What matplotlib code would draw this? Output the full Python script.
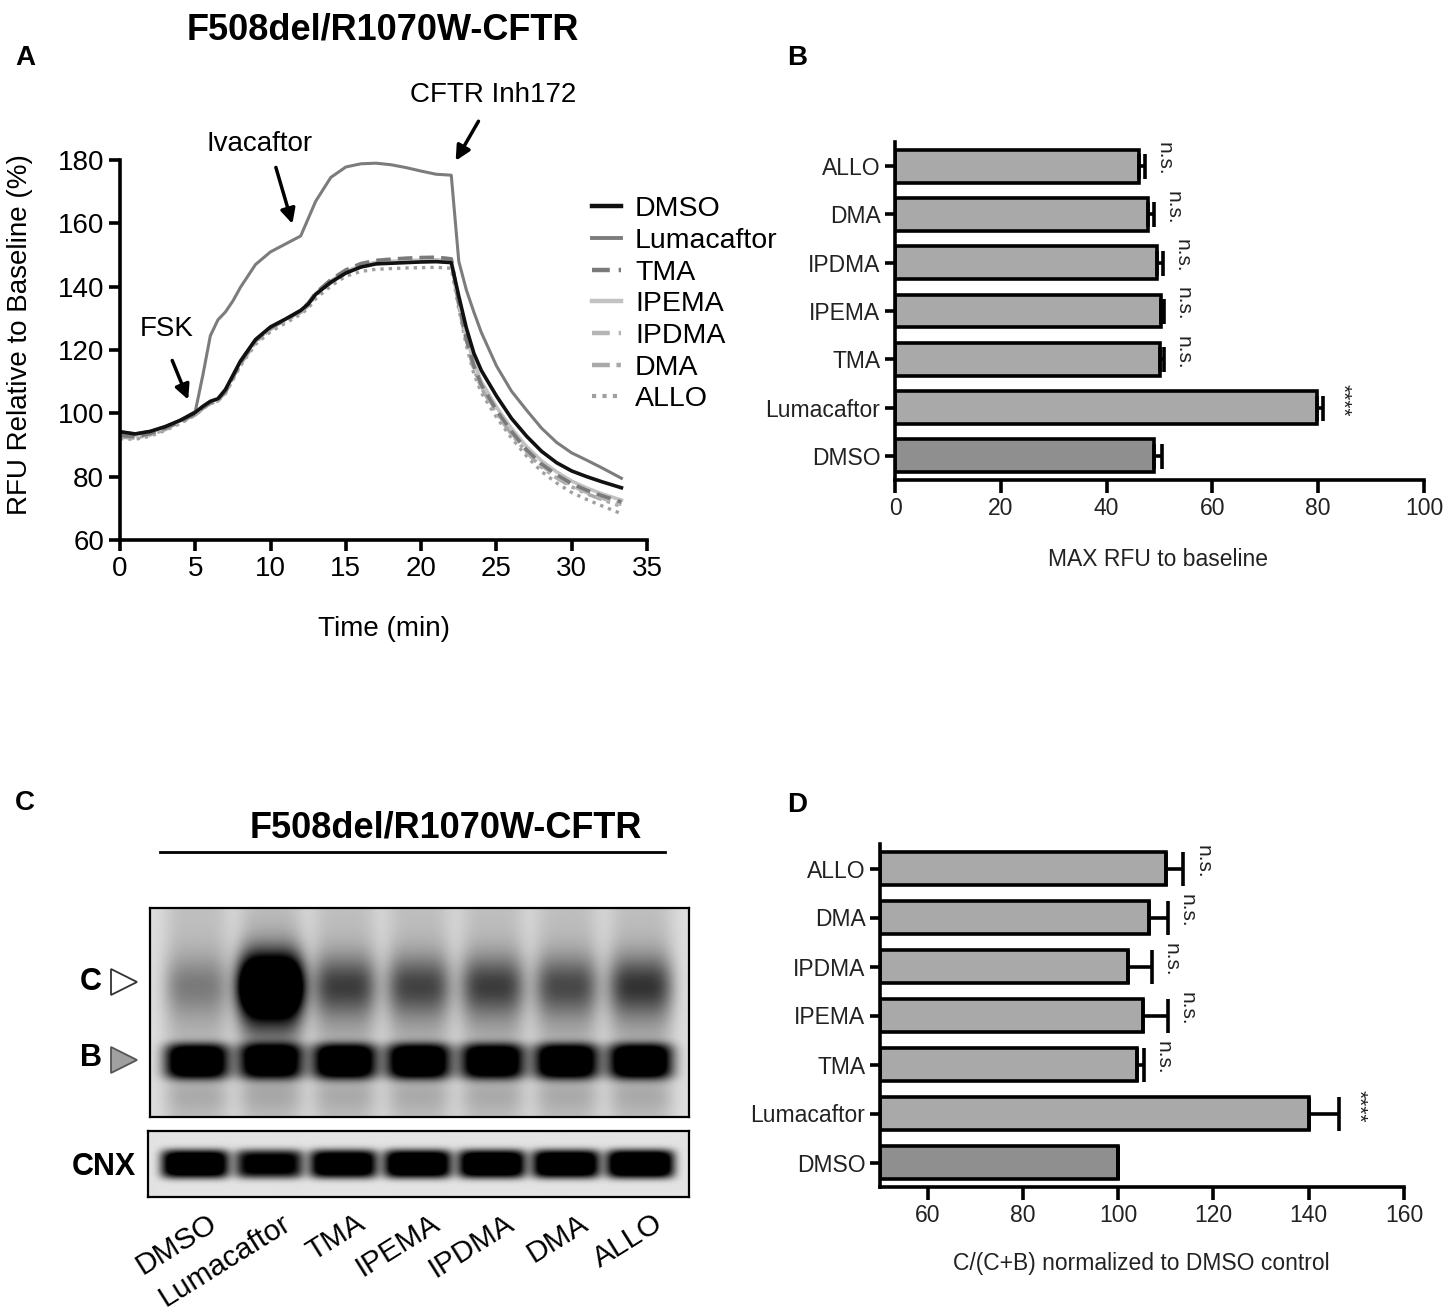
import numpy as np
import matplotlib.pyplot as plt
import matplotlib.transforms as mtransforms
from matplotlib.lines import Line2D

plt.rcParams['font.family'] = ['Liberation Sans', 'DejaVu Sans']

W, H = 1455, 1309

# ---- panel A: fluorescence traces (RFU relative to baseline, %)
time_min = [0, 1, 2, 3, 4, 5, 5.5, 6, 6.5, 7, 7.5, 8, 9, 10, 11, 12, 12.5, 13, 14, 15,
            16, 17, 18, 19, 20, 21, 22, 22.5, 23, 23.5, 24, 25, 26, 27, 28, 29, 30, 31, 32, 33.3]
trace_dmso = [94.2, 93.5, 94.3, 95.8, 97.8, 100.3, 102.2, 103.8, 104.6, 107.5, 112.0, 116.5,
              123.3, 127.3, 129.8, 132.5, 134.5, 137.6, 141.4, 144.3, 146.2, 147.2, 147.4, 147.6,
              147.8, 147.9, 147.6, 137.0, 127.0, 119.0, 113.5, 105.5, 98.4, 92.8, 88.0, 84.4,
              81.8, 80.0, 78.4, 76.5]
trace_luma = [94.2, 93.5, 94.3, 95.8, 97.8, 100.6, 112.0, 124.5, 129.5, 132.0, 135.5, 139.8,
              147.0, 151.0, 153.5, 156.0, 161.5, 167.0, 174.5, 177.8, 178.8, 179.0, 178.5, 177.6,
              176.5, 175.5, 175.2, 148.0, 139.0, 132.0, 125.5, 115.0, 107.0, 101.0, 95.3, 90.8,
              87.5, 85.2, 82.8, 79.5]
trace_tma = [93.0, 92.6, 93.6, 95.3, 97.4, 99.9, 101.8, 103.4, 104.2, 107.0, 111.5, 116.0,
             123.0, 127.0, 129.6, 132.4, 134.8, 138.0, 142.2, 145.3, 147.3, 148.3, 148.7, 149.0,
             149.2, 149.3, 148.8, 135.0, 123.5, 115.0, 109.0, 101.0, 94.3, 88.5, 84.0, 80.6,
             77.8, 75.7, 74.0, 72.0]
trace_ipema = [93.6, 93.0, 94.0, 95.6, 97.6, 100.1, 102.0, 103.6, 104.4, 107.2, 111.8, 116.3,
               123.2, 127.2, 129.7, 132.4, 134.6, 137.8, 141.8, 144.8, 146.7, 147.7, 148.0, 148.2,
               148.4, 148.5, 148.2, 135.5, 124.5, 116.0, 110.0, 102.0, 95.2, 89.5, 85.0, 81.5,
               78.6, 76.4, 74.6, 72.6]
trace_ipdma = [92.8, 92.4, 93.4, 95.1, 97.2, 99.7, 101.6, 103.2, 104.0, 106.8, 111.2, 115.8,
               122.8, 126.9, 129.5, 132.2, 134.6, 137.9, 142.0, 145.0, 147.0, 148.0, 148.5, 148.8,
               149.0, 149.1, 148.7, 134.5, 123.0, 114.5, 108.5, 100.5, 93.8, 88.0, 83.5, 80.0,
               77.2, 75.0, 73.2, 71.2]
trace_dma = [92.5, 92.2, 93.2, 94.9, 97.0, 99.5, 101.5, 103.1, 103.9, 106.6, 111.0, 115.5,
             122.5, 126.6, 129.2, 131.9, 134.0, 137.2, 141.2, 144.3, 146.3, 147.3, 147.6, 147.9,
             148.0, 148.1, 147.8, 134.0, 122.5, 114.0, 108.0, 100.0, 93.4, 87.7, 83.0, 79.6,
             76.8, 74.6, 72.8, 70.6]
trace_allo = [92.0, 91.8, 92.8, 94.6, 96.8, 99.4, 101.4, 103.0, 103.9, 106.2, 110.6, 115.0,
              121.8, 125.8, 128.5, 131.3, 133.2, 136.2, 140.2, 143.3, 144.8, 145.5, 145.7, 145.9,
              146.0, 146.1, 145.8, 133.0, 121.5, 112.5, 106.5, 98.8, 92.2, 86.5, 81.6, 78.0,
              75.0, 72.8, 70.8, 68.3]

# ---- panels B and D: bar summaries (bottom to top)
treatments = ['DMSO', 'Lumacaftor', 'TMA', 'IPEMA', 'IPDMA', 'DMA', 'ALLO']
max_rfu = [48.9, 79.7, 50.0, 50.2, 49.5, 47.9, 46.1]
max_rfu_sem = [1.5, 1.3, 0.9, 0.7, 1.2, 1.0, 1.2]
c_ratio = [100.0, 140.1, 103.9, 105.3, 102.1, 106.5, 110.0]
c_ratio_sem = [0.0, 6.2, 1.5, 5.1, 5.0, 3.9, 3.7]
signif_b = ['', '****', 'n.s.', 'n.s.', 'n.s.', 'n.s.', 'n.s.']
signif_d = ['', '****', 'n.s.', 'n.s.', 'n.s.', 'n.s.', 'n.s.']

# ---- panel C: western blot band darkness per lane
band_c = [0.22, 1.5, 0.42, 0.4, 0.42, 0.38, 0.45]
band_b = [1.1, 1.0, 1.1, 1.1, 1.05, 1.1, 1.1]
band_cnx = [1.2, 1.0, 1.15, 1.2, 1.2, 1.2, 1.25]

fig = plt.figure(figsize=(W / 100, H / 100), dpi=100)


def px_axes(left, top, right, bottom):
    return fig.add_axes([left / W, 1 - bottom / H, (right - left) / W, (bottom - top) / H])


# ================= Panel A
ax = px_axes(120, 160, 647, 540)
styles = [
    (trace_dmso, 'DMSO', '#111111', '-', 2.6),
    (trace_luma, 'Lumacaftor', '#7c7c7c', '-', 2.2),
    (trace_tma, 'TMA', '#7a7a7a', (0, (4, 2)), 2.6),
    (trace_ipema, 'IPEMA', '#c2c2c2', '-', 2.6),
    (trace_ipdma, 'IPDMA', '#b5b5b5', (0, (4, 2)), 2.6),
    (trace_dma, 'DMA', '#a8a8a8', (0, (4, 1.5, 1, 1.5, 1, 1.5)), 2.6),
    (trace_allo, 'ALLO', '#a0a0a0', (0, (1, 1.5)), 2.4),
]
handles = []
for vals, lab, col, ls, lw in styles[::-1]:
    ax.plot(time_min, vals, color=col, ls=ls, lw=lw)
for vals, lab, col, ls, lw in styles:
    handles.append(Line2D([], [], color=col, ls=ls, lw=lw + 0.6, label=lab))

ax.set_xlim(0, 35)
ax.set_ylim(60, 180)
ax.set_xticks(range(0, 36, 5))
ax.set_yticks(range(60, 181, 20))
for s in ['top', 'right']:
    ax.spines[s].set_visible(False)
for s in ['left', 'bottom']:
    ax.spines[s].set_linewidth(2.6)
ax.tick_params(labelsize=20, width=2.6, length=8)
ax.set_xlabel('Time (min)', fontsize=20)
ax.set_ylabel('RFU Relative to Baseline (%)', fontsize=20)
ax.xaxis.set_label_coords(0.5, -0.2)
ax.yaxis.set_label_coords(-0.165, 0.54)

arrow = dict(arrowstyle='-|>', lw=2.5, color='black', mutation_scale=22)
ax.annotate('', xy=(4.6, 103.5), xytext=(3.4, 117.5), arrowprops=arrow, annotation_clip=False)
ax.text(3.1, 126.5, 'FSK', fontsize=20, ha='center', va='center')
ax.annotate('', xy=(11.5, 159.0), xytext=(10.3, 178.5), arrowprops=arrow, annotation_clip=False)
ax.text(9.3, 185.0, 'Ivacaftor', fontsize=20, ha='center', va='center', clip_on=False)
ax.annotate('', xy=(22.2, 179.0), xytext=(23.9, 193.0), arrowprops=arrow, annotation_clip=False)
ax.text(24.8, 200.5, 'CFTR Inh172', fontsize=20, ha='center', va='center', clip_on=False)

fig.legend(handles=handles, loc='upper left', bbox_to_anchor=(578 / W, 1 - 182 / H),
           frameon=False, fontsize=20.5, handlelength=1.0, handletextpad=0.5,
           labelspacing=0.2, borderpad=0)

fig.text(383 / W, 1 - 30 / H, 'F508del/R1070W-CFTR', fontsize=26, fontweight='bold',
         ha='center', va='center')


# ================= Panels B and D
def bar_panel(ax, values, errs, signif, base, xlim, xticks, xlabel, capsize):
    y = np.arange(len(treatments))
    colors = ['#8f8f8f'] + ['#a9a9a9'] * (len(treatments) - 1)
    ax.barh(y, np.array(values) - base, left=base, height=0.68, color=colors,
            edgecolor='black', linewidth=2.6, zorder=2)
    ax.errorbar(values, y, xerr=[np.zeros(len(errs)), errs], fmt='none', ecolor='black',
                elinewidth=2.6, capsize=capsize, capthick=2.6, zorder=3)
    for i, (v, e, s) in enumerate(zip(values, errs, signif)):
        if s:
            ax.annotate(s, xy=(v + e, i), xytext=(7, 5), textcoords='offset points',
                        rotation=-90, ha='left', va='center', fontsize=15, color='#222222')
    ax.set_xlim(*xlim)
    ax.set_ylim(-0.5, 6.5)
    ax.set_xticks(xticks)
    ax.set_yticks(y)
    ax.set_yticklabels(treatments)
    for s in ['top', 'right']:
        ax.spines[s].set_visible(False)
    for s in ['left', 'bottom']:
        ax.spines[s].set_linewidth(2.6)
    ax.tick_params(axis='x', labelsize=16.5, width=2.6, length=9, labelcolor='#222222')
    ax.tick_params(axis='y', labelsize=16.5, width=2.6, length=7, labelcolor='#222222')
    ax.set_xlabel(xlabel, fontsize=16.5, color='#222222')


axb = px_axes(895, 142, 1424, 480)
bar_panel(axb, max_rfu, max_rfu_sem, signif_b, 0, (0, 100), range(0, 101, 20),
          'MAX RFU to baseline', 9)
axb.xaxis.set_label_coords(0.497, -0.2)

axd = px_axes(880, 844, 1404, 1187)
bar_panel(axd, c_ratio, c_ratio_sem, signif_d, 50, (50, 160), range(60, 161, 20),
          'C/(C+B) normalized to DMSO control', 12)
axd.xaxis.set_label_coords(0.498, -0.19)

# ================= Panel C: blot
xlo, xhi = -0.63, 6.65
lane_x = np.linspace(xlo, xhi, 540)
rows = np.linspace(0, 1, 210)
LX, LY = np.meshgrid(lane_x, rows)
dark = np.full(LX.shape, 0.13)
for i, (c, b) in enumerate(zip(band_c, band_b)):
    lane = np.exp(-((LX - i) / 0.44) ** 4)
    dark += lane * (0.12 + 0.25 * c * np.exp(-((LY - 0.45) / 0.25) ** 2))
    dark += lane * c * np.exp(-((LY - 0.37) / 0.14) ** 2)
    dark += lane * b * np.exp(-((LY - 0.735) / 0.085) ** 4)
    dark += lane * 0.08 * np.exp(-((LY - 0.9) / 0.08) ** 2)
axc = px_axes(150, 908, 689, 1117)
axc.imshow(1 - np.clip(dark, 0, 1), cmap='gray', vmin=0, vmax=1, aspect='auto',
           extent=(xlo, xhi, 1, 0), interpolation='bilinear')
axc.set_xlim(xlo, xhi)
axc.set_ylim(1, 0)
axc.set_xticks([])
axc.set_yticks([])
for s in axc.spines.values():
    s.set_linewidth(1.6)

cnx_rows = np.linspace(0, 1, 66)
CX, CY = np.meshgrid(lane_x, cnx_rows)
cdark = np.full(CX.shape, 0.11)
for i, k in enumerate(band_cnx):
    lane = np.exp(-((CX - i) / 0.46) ** 6)
    cdark += lane * k * np.exp(-((CY - 0.5) / 0.22) ** 4)
axn = px_axes(148, 1131, 689, 1197)
axn.imshow(1 - np.clip(cdark, 0, 1), cmap='gray', vmin=0, vmax=1, aspect='auto',
           extent=(xlo, xhi, 1, 0), interpolation='bilinear')
axn.set_xlim(xlo, xhi)
axn.set_ylim(1, 0)
axn.set_xticks([])
axn.set_yticks([])
for s in axn.spines.values():
    s.set_linewidth(1.6)

# band markers
axc.text(-1.43, 0.355, 'C', fontsize=22, fontweight='bold', ha='center', va='center')
axc.text(-1.43, 0.72, 'B', fontsize=22, fontweight='bold', ha='center', va='center')
axc.plot([-0.98], [0.355], marker='>', markersize=19, markerfacecolor='white',
         markeredgecolor='#333333', markeredgewidth=1.3, clip_on=False)
axc.plot([-0.98], [0.727], marker='>', markersize=19, markerfacecolor='#a0a0a0',
         markeredgecolor='#555555', markeredgewidth=1.3, clip_on=False)
axn.text(-1.23, 0.55, 'CNX', fontsize=22, fontweight='bold', ha='center', va='center')

# lane labels
trans = mtransforms.blended_transform_factory(axn.transData, axn.transAxes)
for i, lab in enumerate(treatments):
    axn.text(i + 0.16, -0.18, lab, transform=trans, rotation=32, rotation_mode='anchor',
             ha='right', va='top', fontsize=21.5)

fig.text(446 / W, 1 - 828 / H, 'F508del/R1070W-CFTR', fontsize=26, fontweight='bold',
         ha='center', va='center')
fig.add_artist(Line2D([160 / W, 665 / W], [1 - 852 / H, 1 - 852 / H], color='black', lw=2))

# panel letters
for letter, (x, y) in zip('ABCD', [(25, 58), (797, 58), (25, 803), (797, 805)]):
    fig.text(x / W, 1 - y / H, letter, fontsize=20, fontweight='bold', ha='center', va='center')

fig.savefig('out.png', dpi=100, facecolor='white')
